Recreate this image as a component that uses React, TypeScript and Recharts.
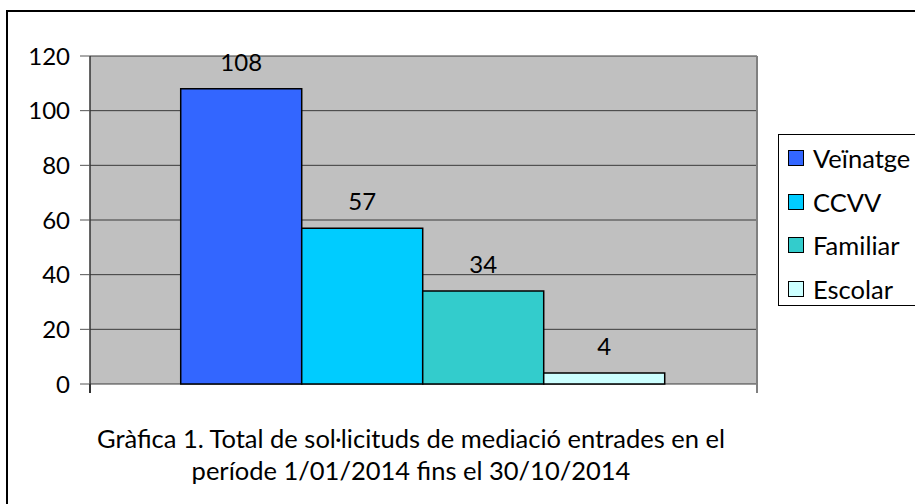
import React from 'react';
import { BarChart, Bar, XAxis, YAxis, CartesianGrid, LabelList, Legend } from 'recharts';

const categories = ['Total'];
const seriesNames = ['Veïnatge', 'CCVV', 'Familiar', 'Escolar'];
const seriesValues = [108, 57, 34, 4];
const seriesColors = ['#3366FF', '#00CCFF', '#33CCCC', '#CCFFFF'];
const yTicks = [0, 20, 40, 60, 80, 100, 120];
const captionLines = [
  'Gràfica 1. Total de sol·licituds de mediació entrades en el',
  'període 1/01/2014 fins el 30/10/2014',
];

const data = categories.map((c) => {
  const row: Record<string, any> = { name: c };
  seriesNames.forEach((s, i) => {
    row[s] = seriesValues[i];
  });
  return row;
});

const FONT = 'Lato, "Open Sans", sans-serif';

const LegendBox = () => (
  <div
    style={{
      position: 'absolute',
      left: 778,
      top: 134,
      width: 160,
      height: 172,
      border: '1.5px solid #000',
      background: '#fff',
      boxSizing: 'border-box',
      fontFamily: FONT,
      fontSize: 25.5,
      color: '#000',
    }}
  >
    {seriesNames.map((s, i) => (
      <div
        key={s}
        style={{
          position: 'absolute',
          left: 9,
          top: 7 + i * 43.5,
          height: 32,
          display: 'flex',
          alignItems: 'center',
          whiteSpace: 'nowrap',
        }}
      >
        <span
          style={{
            display: 'inline-block',
            width: 14,
            height: 14,
            background: seriesColors[i],
            border: '1.5px solid #000',
            marginRight: 9,
          }}
        />
        <span>{s}</span>
      </div>
    ))}
  </div>
);

export default function App() {
  return (
    <div
      style={{
        position: 'absolute',
        left: 0,
        top: 0,
        width: 915,
        height: 504,
        overflow: 'hidden',
        background: '#fff',
      }}
    >
      <div
        style={{
          position: 'absolute',
          left: 6,
          top: 10,
          width: 1200,
          height: 1200,
          border: '2px solid #000',
          boxSizing: 'border-box',
        }}
      />
      <div style={{ position: 'absolute', left: 0, top: 0 }}>
        <BarChart
          width={915}
          height={504}
          data={data}
          margin={{ top: 56, right: 158, bottom: 120, left: 0 }}
          barCategoryGap="13.6%"
          barGap={0}
        >
          <CartesianGrid
            vertical={false}
            fill="#C0C0C0"
            fillOpacity={1}
            stroke="#3a3a3a"
            strokeWidth={1}
          />
          <CartesianGrid
            horizontal={false}
            verticalPoints={[757]}
            stroke="#808080"
            strokeWidth={2}
          />
          <XAxis dataKey="name" hide />
          <YAxis
            width={90}
            domain={[0, 120]}
            ticks={yTicks}
            interval={0}
            tickSize={10}
            tickMargin={10}
            axisLine={{ stroke: '#333', strokeWidth: 1.5 }}
            tickLine={{ stroke: '#555', strokeWidth: 1 }}
            tick={{ fill: '#000', fontSize: 24, fontFamily: FONT }}
          />
          {seriesNames.map((s, i) => (
            <Bar
              key={s}
              dataKey={s}
              fill={seriesColors[i]}
              stroke="#000"
              strokeWidth={1.5}
              isAnimationActive={false}
            >
              <LabelList
                dataKey={s}
                position="top"
                offset={18}
                style={{ fill: '#000', fontSize: 24, fontFamily: FONT }}
              />
            </Bar>
          ))}
          <Legend content={() => null} />
        </BarChart>
      </div>
      <div style={{ position: 'absolute', left: 89, top: 384, width: 1.5, height: 9, background: '#333' }} />
      <div style={{ position: 'absolute', left: 756, top: 384, width: 2, height: 9, background: '#808080' }} />
      <LegendBox />
      <div
        style={{
          position: 'absolute',
          left: 0,
          top: 422,
          width: 822,
          textAlign: 'center',
          fontFamily: FONT,
          fontSize: 25.5,
          lineHeight: '32px',
          color: '#000',
        }}
      >
        {captionLines.map((l) => (
          <div key={l}>{l}</div>
        ))}
      </div>
    </div>
  );
}
